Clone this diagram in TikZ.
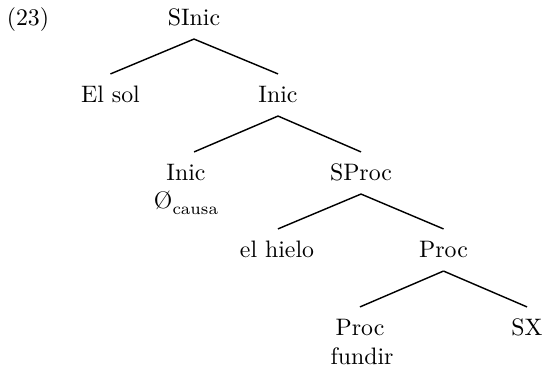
\documentclass[tikz,border=0pt]{standalone}
\usepackage{fontspec}
\begin{document}
\begin{tikzpicture}[x=0.42pt,y=-0.42pt,inner sep=0pt,outer sep=0pt,line width=0.6pt,
cat/.style={anchor=base,inner xsep=0pt,inner ysep=4.8pt,text height=7pt,text depth=1.1pt},
sub/.style={anchor=base,inner sep=0pt}]
\useasboundingbox (0,0) rectangle (542,371);
\draw (28,25) node[sub] (ex) {(23)};

\draw (194,25) node[cat] (SInic) {SInic};
\draw (110.5,102) node[cat] (ElSol) {El sol};
\draw (278,102) node[cat] (Inic) {Inic};
\draw (186,180) node[cat] (InicB) {Inic};
\draw (InicB.base) ++(0,28.5) node[sub] (Causa) {Ø\raisebox{-0.55ex}{\scriptsize causa}};
\draw (361,180) node[cat] (SProc) {SProc};
\draw (277,257) node[cat] (Hielo) {el hielo};
\draw (443.5,257) node[cat] (Proc) {Proc};
\draw (360,335) node[cat] (ProcB) {Proc};
\draw (ProcB.base) ++(2,29.5) node[sub] (Fundir) {fundir};
\draw (527,335) node[cat] (SX) {SX};

\draw (SInic.south) -- (ElSol.north);
\draw (SInic.south) -- (Inic.north);
\draw (Inic.south) -- ([xshift=3.4pt]InicB.north);
\draw (Inic.south) -- (SProc.north);
\draw (SProc.south) -- ([xshift=0.4pt]Hielo.north);
\draw (SProc.south) -- (Proc.north);
\draw (Proc.south) -- (ProcB.north);
\draw (Proc.south) -- (SX.north);

\end{tikzpicture}
\end{document}
